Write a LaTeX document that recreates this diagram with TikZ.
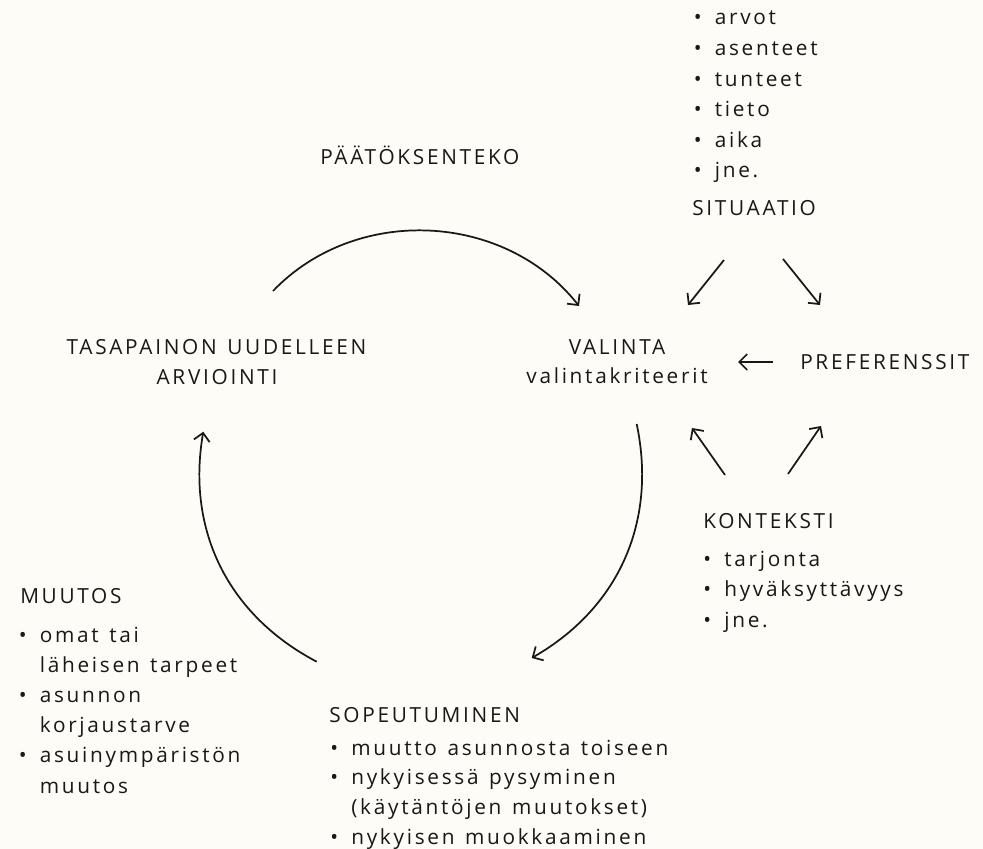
\documentclass[tikz,border=0pt]{standalone}
\usepackage{fontspec}
\setmainfont{Open Sans}[LetterSpace=13,WordSpace=1.3]
\usetikzlibrary{arrows.meta}
\definecolor{paper}{RGB}{253,252,246}
\definecolor{ink}{RGB}{24,24,24}
% bullet item and its continuation line
\newcommand\itm[1]{\makebox[15.8pt][l]{•}#1}
\newcommand\cnt[1]{\hspace*{15.8pt}#1}
\begin{document}
\begin{tikzpicture}[x=0.75pt,y=0.75pt,
  lbl/.style={font=\fontsize{15.6}{18}\selectfont, text=ink, inner sep=0pt, anchor=base west},
  mid/.style={lbl, anchor=base},
  flow/.style={draw=ink, line width=1.3pt, -{Straight Barb[length=6pt,width=12pt]}}]
\fill[paper] (0,0) rectangle (983,-849);
\useasboundingbox (0,0) rectangle (983,-849);

% headings
\node[lbl] (decision) at (320,-165) {PÄÄTÖKSENTEKO};
\node[mid] (balance1) at (216.5,-354) {TASAPAINON UUDELLEEN};
\node[mid] (balance2) at (217,-384) {ARVIOINTI};
\node[mid] (choice) at (617,-354) {VALINTA};
\node[mid] (criteria) at (617,-383) {valintakriteerit};
\node[lbl] (pref) at (800,-369) {PREFERENSSIT};
\node[lbl] (situation) at (692,-215) {SITUAATIO};
\node[lbl] (context) at (703,-528) {KONTEKSTI};
\node[lbl] (change) at (20,-603) {MUUTOS};
\node[lbl] (adapt) at (329,-722) {SOPEUTUMINEN};

% bullet lists
\foreach \t [count=\i] in {{\itm{arvot}},{\itm{asenteet}},{\itm{tunteet}},{\itm{tieto}},{\itm{aika}},{\itm{jne.}}}
  \node[lbl] (sit-\i) at (693.5,{-25-30.6*(\i-1)}) {\t};
\foreach \t [count=\i] in {{\itm{tarjonta}},{\itm{hyväksyttävyys}},{\itm{jne.}}}
  \node[lbl] (ctx-\i) at (703,{-566-30.5*(\i-1)}) {\t};
\foreach \t [count=\i] in {{\itm{omat tai}},{\cnt{läheisen tarpeet}},{\itm{asunnon}},{\cnt{korjaustarve}},{\itm{asuinympäristön}},{\cnt{muutos}}}
  \node[lbl] (chg-\i) at (18.5,{-642-30.2*(\i-1)}) {\t};
\foreach \t [count=\i] in {{\itm{muutto asunnosta toiseen}},{\itm{nykyisessä pysyminen}},{\cnt{(käytäntöjen muutokset)}},{\itm{nykyisen muokkaaminen}}}
  \node[lbl] (adp-\i) at (330,{-755-29.7*(\i-1)}) {\t};

% cycle arcs
\coordinate (dec-a) at (273,-291);
\coordinate (dec-b) at (579,-306);
\coordinate (cho-a) at (636.7,-424);
\coordinate (cho-b) at (531.7,-658);
\coordinate (adp-a) at (316.7,-661.7);
\coordinate (adp-b) at (203.3,-431.7);
\draw[flow] (dec-a) to[bend left=49] (dec-b);
\draw[flow] (cho-a) to[bend left=36] (cho-b);
\draw[flow] (adp-a) to[bend left=36] (adp-b);

% influences on the choice
\coordinate (s1) at (724,-260);  \coordinate (s1t) at (688,-305);
\coordinate (s2) at (783,-259);  \coordinate (s2t) at (820,-305);
\coordinate (k1) at (725,-475);  \coordinate (k1t) at (692,-428);
\coordinate (k2) at (788,-474);  \coordinate (k2t) at (821,-426);
\coordinate (p1) at (773,-362);  \coordinate (p1t) at (738,-362);
\draw[flow] (s1) -- (s1t);
\draw[flow] (s2) -- (s2t);
\draw[flow] (k1) -- (k1t);
\draw[flow] (k2) -- (k2t);
\draw[flow] (p1) -- (p1t);
\end{tikzpicture}
\end{document}
